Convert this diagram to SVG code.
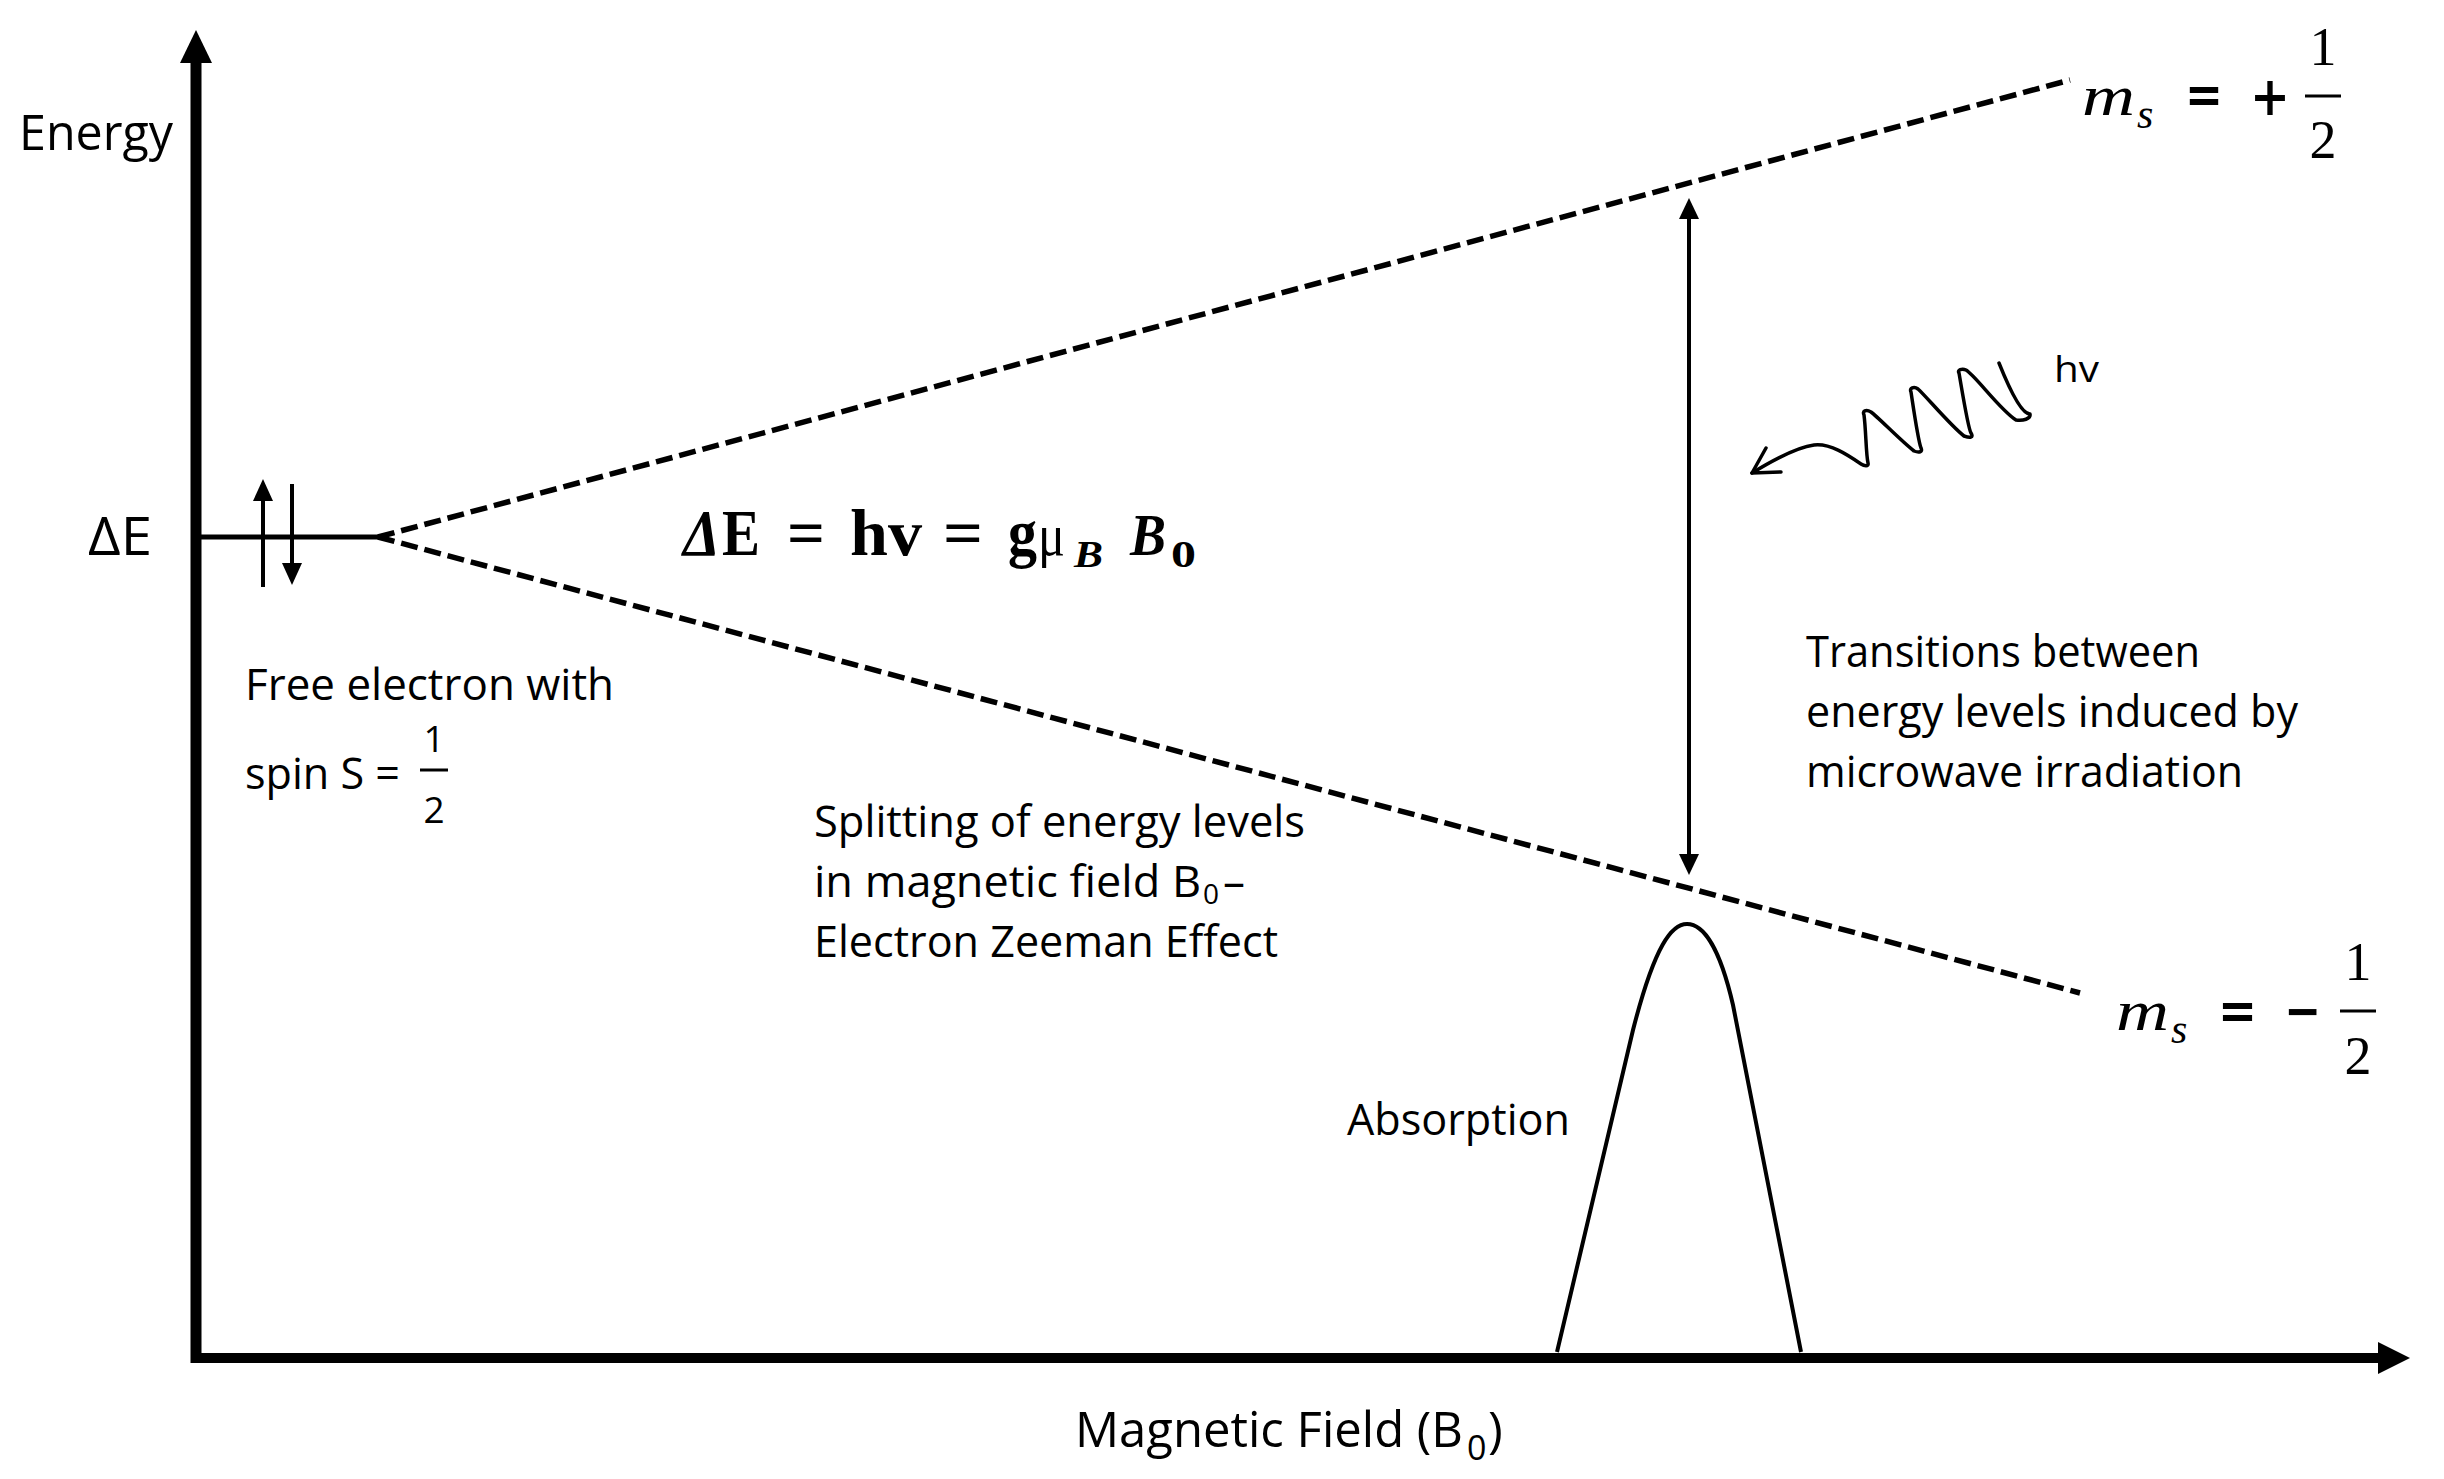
<svg xmlns="http://www.w3.org/2000/svg" width="2444" height="1479" viewBox="0 0 2444 1479">
<style>
.t{font-family:"Open Sans","Liberation Sans",sans-serif;fill:#000}
.m{font-family:"Liberation Serif","DejaVu Serif",serif;fill:#000}
.op{font-family:"DejaVu Serif","Liberation Serif",serif;fill:#000;font-weight:bold}
.ln{stroke:#000;fill:none}
.dash{stroke:#000;stroke-width:5.5;stroke-dasharray:17 7;fill:none}
</style>
<rect width="2444" height="1479" fill="#fff"/>
<g id="axes">
  <line class="ln" x1="196" y1="1363" x2="196" y2="58" stroke-width="11"/>
  <polygon points="196,30 180,63 212,63" fill="#000"/>
  <line class="ln" x1="191" y1="1358" x2="2382" y2="1358" stroke-width="10"/>
  <polygon points="2410,1358 2378,1342 2378,1374" fill="#000"/>
  <text class="t" x="19" y="150" font-size="49" textLength="154" lengthAdjust="spacingAndGlyphs">Energy</text>
  <text class="t" x="1075" y="1447" font-size="50"><tspan textLength="388" lengthAdjust="spacingAndGlyphs">Magnetic Field (B</tspan><tspan x="1467" y="1460" font-size="34">0</tspan><tspan x="1488" y="1447">)</tspan></text>
</g>
<g id="free-electron">
  <line class="ln" x1="196" y1="537" x2="379" y2="537" stroke-width="5"/>
  <line class="ln" x1="263" y1="587" x2="263" y2="498" stroke-width="4"/>
  <polygon points="263,479 253,501 273,501" fill="#000"/>
  <line class="ln" x1="292" y1="484" x2="292" y2="566" stroke-width="4"/>
  <polygon points="292,585 282,563 302,563" fill="#000"/>
  <text class="t" x="88" y="555" font-size="53" textLength="64" lengthAdjust="spacingAndGlyphs">ΔE</text>
  <text class="t" x="245" y="700" font-size="44" textLength="369" lengthAdjust="spacingAndGlyphs">Free electron with</text>
  <text class="t" x="245" y="789" font-size="44" textLength="155" lengthAdjust="spacingAndGlyphs">spin S =</text>
  <text class="t" x="434" y="752" font-size="37" text-anchor="middle">1</text>
  <line class="ln" x1="420" y1="770" x2="448" y2="770" stroke-width="3"/>
  <text class="t" x="434" y="823" font-size="37" text-anchor="middle">2</text>
</g>
<g id="formula">
  <text class="m" x="683" y="555" font-size="65" font-weight="bold" font-style="italic" textLength="37" lengthAdjust="spacingAndGlyphs">Δ</text>
  <text class="m" x="722" y="555" font-size="65" font-weight="bold" textLength="38" lengthAdjust="spacingAndGlyphs">E</text>
  <text class="m" x="787" y="555" font-size="65" font-weight="bold" textLength="38" lengthAdjust="spacingAndGlyphs">=</text>
  <text class="m" x="850" y="555" font-size="65" font-weight="bold" textLength="72" lengthAdjust="spacingAndGlyphs">hv</text>
  <text class="m" x="943" y="555" font-size="65" font-weight="bold" textLength="40" lengthAdjust="spacingAndGlyphs">=</text>
  <text class="m" x="1008" y="555" font-size="65" font-weight="bold" textLength="29" lengthAdjust="spacingAndGlyphs">g</text>
  <text class="m" x="1038" y="555" font-size="60" textLength="27" lengthAdjust="spacingAndGlyphs">μ</text>
  <text class="m" x="1074" y="567" font-size="38" font-weight="bold" font-style="italic" textLength="29" lengthAdjust="spacingAndGlyphs">B</text>
  <text class="m" x="1130" y="555" font-size="60" font-weight="bold" font-style="italic" textLength="36" lengthAdjust="spacingAndGlyphs">B</text>
  <text class="m" x="1171" y="567" font-size="38" font-weight="bold" textLength="25" lengthAdjust="spacingAndGlyphs">0</text>
</g>
<g id="splitting-label">
  <text class="t" x="814" y="837" font-size="44" textLength="491" lengthAdjust="spacingAndGlyphs">Splitting of energy levels</text>
  <text class="t" x="814" y="897" font-size="44"><tspan textLength="387" lengthAdjust="spacingAndGlyphs">in magnetic field B</tspan><tspan x="1203" y="904" font-size="28">0</tspan><tspan x="1223" y="897">–</tspan></text>
  <text class="t" x="814" y="957" font-size="44" textLength="464" lengthAdjust="spacingAndGlyphs">Electron Zeeman Effect</text>
</g>
<g id="transitions-label">
  <text class="t" x="1806" y="667" font-size="44" textLength="394" lengthAdjust="spacingAndGlyphs">Transitions between</text>
  <text class="t" x="1806" y="727" font-size="44" textLength="492" lengthAdjust="spacingAndGlyphs">energy levels induced by</text>
  <text class="t" x="1806" y="787" font-size="44" textLength="437" lengthAdjust="spacingAndGlyphs">microwave irradiation</text>
</g>
<g id="ms-plus">
  <text class="m" x="2082" y="115" font-size="58" font-style="italic" textLength="53" lengthAdjust="spacingAndGlyphs">m</text>
  <text class="m" x="2137" y="128" font-size="42" font-style="italic">s</text>
  <text class="op" x="2185" y="113" font-size="54" textLength="38" lengthAdjust="spacingAndGlyphs">=</text>
  <text class="op" x="2250" y="115" font-size="54" textLength="40" lengthAdjust="spacingAndGlyphs">+</text>
  <text class="m" x="2323" y="65" font-size="54" text-anchor="middle">1</text>
  <line class="ln" x1="2305" y1="96" x2="2341" y2="96" stroke-width="3"/>
  <text class="m" x="2323" y="158" font-size="54" text-anchor="middle">2</text>
</g>
<g id="ms-minus">
  <text class="m" x="2116" y="1030" font-size="58" font-style="italic" textLength="53" lengthAdjust="spacingAndGlyphs">m</text>
  <text class="m" x="2171" y="1043" font-size="42" font-style="italic">s</text>
  <text class="op" x="2218" y="1029" font-size="54" textLength="39" lengthAdjust="spacingAndGlyphs">=</text>
  <text class="op" x="2284" y="1029" font-size="54" textLength="37" lengthAdjust="spacingAndGlyphs">−</text>
  <text class="m" x="2358" y="980" font-size="54" text-anchor="middle">1</text>
  <line class="ln" x1="2340" y1="1011" x2="2376" y2="1011" stroke-width="3"/>
  <text class="m" x="2358" y="1074" font-size="54" text-anchor="middle">2</text>
</g>
<g id="photon">
  <path class="ln" stroke-width="3.5" stroke-linecap="round" stroke-linejoin="round" d="M1999,363 C2005,378 2020,414 2030,414 C2031,419 2023,421 2016,420 C2000,410 1975,375 1966,370 C1962,368 1957,370 1959,373 C1962,390 1968,428 1971,433 C1974,438 1970,438 1964,436 C1950,425 1925,395 1918,389 C1914,386 1909,388 1911,392 C1913,405 1918,440 1921,448 C1923,452 1919,453 1914,451 C1900,440 1878,417 1871,412 C1866,409 1862,411 1864,415 C1866,430 1866,455 1868,463 C1869,467 1864,466 1861,464 C1848,455 1830,443 1814,445 C1798,447 1770,462 1752,473"/>
  <polyline class="ln" stroke-width="3.5" stroke-linecap="round" stroke-linejoin="round" points="1766,448 1752,473 1781,472"/>
  <text class="t" x="2054" y="382" font-size="36" textLength="45" lengthAdjust="spacingAndGlyphs">hv</text>
</g>
<g id="absorption">
  <path class="ln" stroke-width="4" d="M1557,1352 L1633,1030 C1655,944 1672,924 1687,924 C1702,924 1719,944 1733,1005 L1801,1352"/>
  <text class="t" x="1347" y="1135" font-size="44" textLength="223" lengthAdjust="spacingAndGlyphs">Absorption</text>
</g>
<g id="connectors">
  <line class="dash" x1="378" y1="537" x2="2070" y2="80"/>
  <line class="dash" x1="378" y1="537" x2="2080" y2="993"/>
  <line class="ln" x1="1689" y1="216" x2="1689" y2="857" stroke-width="4"/>
  <polygon points="1689,198 1679,219 1699,219" fill="#000"/>
  <polygon points="1689,875 1679,854 1699,854" fill="#000"/>
</g>
</svg>
